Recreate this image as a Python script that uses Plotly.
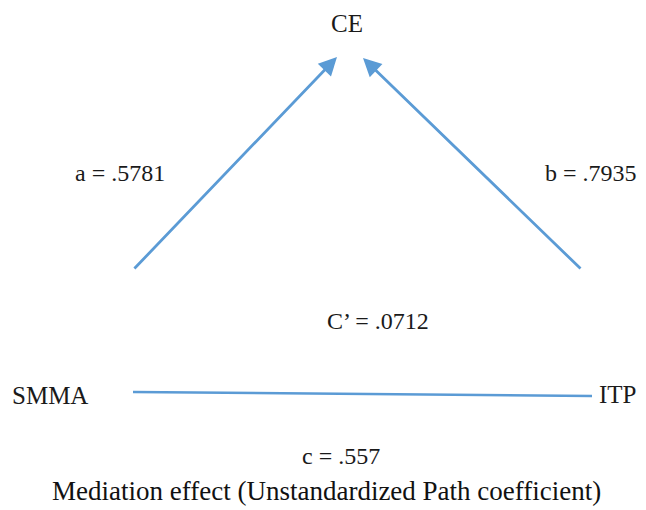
import plotly.graph_objects as go

# Diagram content
node_names = ["SMMA", "CE", "ITP"]
path_names = ["a", "b", "C’", "c"]
path_values = [".5781", ".7935", ".0712", ".557"]
caption = "Mediation effect (Unstandardized Path coefficient)"

W, H = 646, 510
LINE = "#5b9bd5"
FONT = "Liberation Serif"

# layout positions (pixel-like coordinates, y downward)
node_pos = {"SMMA": (50, 395), "CE": (347, 23), "ITP": (618, 394)}
path_label_pos = [(120, 173), (591, 173), (378, 321), (341, 456)]
arrows = [((133, 270), (337, 57)), ((582, 270), (363, 58))]
hline = ((133, 392), (592, 396))

fig = go.Figure()

# horizontal direct path line
fig.add_trace(go.Scatter(x=[hline[0][0], hline[1][0]], y=[hline[0][1], hline[1][1]],
                         mode="lines", line=dict(color=LINE, width=2.6),
                         hoverinfo="skip", showlegend=False))

annotations = []
for (x0, y0), (x1, y1) in arrows:
    annotations.append(dict(x=x1, y=y1, ax=x0, ay=y0, xref="x", yref="y",
                            axref="x", ayref="y", text="", showarrow=True,
                            arrowhead=2, arrowsize=1.3, arrowwidth=2.8,
                            arrowcolor=LINE))
for name in node_names:
    x, y = node_pos[name]
    annotations.append(dict(x=x, y=y, xref="x", yref="y", text=name,
                            showarrow=False, font=dict(family=FONT, size=25, color="#1a1a1a")))
for (x, y), n, v in zip(path_label_pos, path_names, path_values):
    annotations.append(dict(x=x, y=y, xref="x", yref="y", text=f"{n} = {v}",
                            showarrow=False, font=dict(family=FONT, size=24, color="#1a1a1a")))
annotations.append(dict(x=326, y=491, xref="x", yref="y", text=caption,
                        showarrow=False, font=dict(family=FONT, size=27, color="#111")))

fig.update_layout(
    width=W, height=H, margin=dict(l=0, r=0, t=0, b=0),
    plot_bgcolor="white", paper_bgcolor="white",
    xaxis=dict(range=[0, W], visible=False, fixedrange=True),
    yaxis=dict(range=[H, 0], visible=False, fixedrange=True),
    annotations=annotations, showlegend=False,
)

fig.write_html("out.html", config={"displayModeBar": False},
               post_script="document.body.style.margin='0';")
